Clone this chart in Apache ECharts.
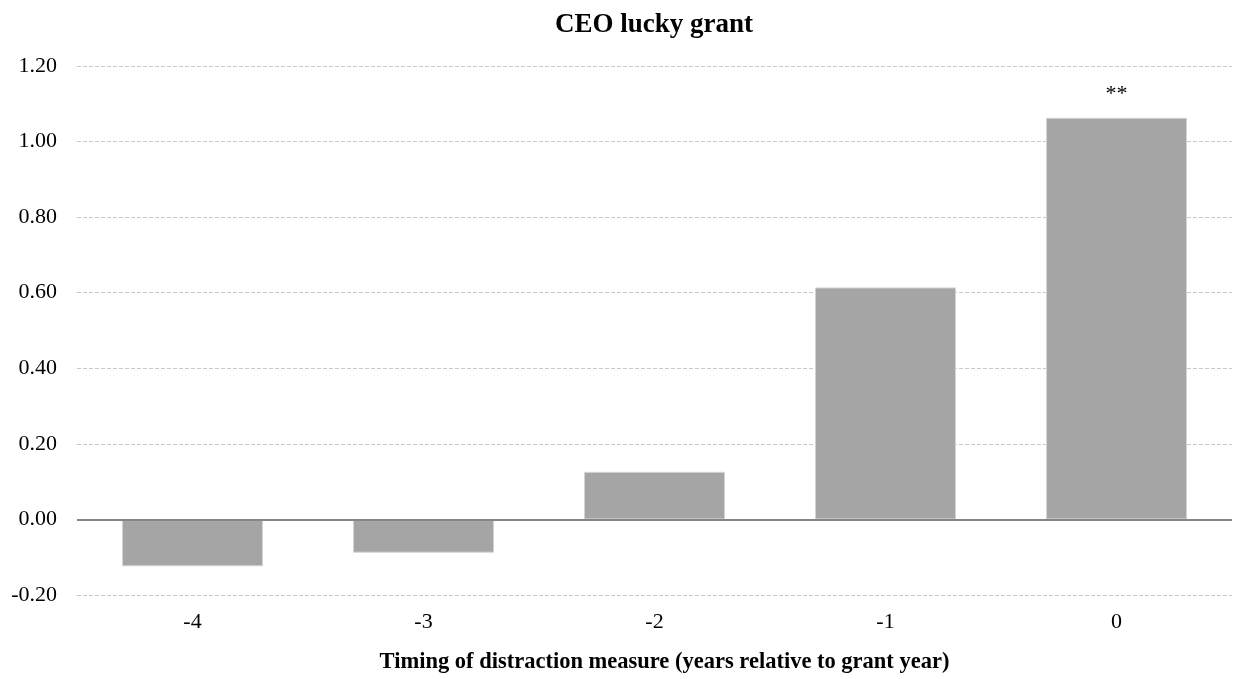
<!DOCTYPE html>
<html>
<head>
<meta charset="utf-8">
<script src="https://cdn.jsdelivr.net/npm/echarts@6/dist/echarts.min.js"></script>
<style>html,body{margin:0;padding:0;background:#fff;}#c{width:1235px;height:679px;}</style>
</head>
<body>
<div id="c"></div>
<script>
var categories = ['-4', '-3', '-2', '-1', '0'];
var values = [-0.124, -0.088, 0.126, 0.614, 1.063];
var significance = ['', '', '', '', '**'];
var yTicks = { min: -0.2, max: 1.2, interval: 0.2 };

var font = '"Liberation Serif", "Times New Roman", serif';
var chart = echarts.init(document.getElementById('c'));
chart.setOption({
  animation: false,
  title: {
    text: 'CEO lucky grant', left: 550, top: 7,
    textStyle: { fontFamily: font, fontSize: 27, fontWeight: 'bold', color: '#000' }
  },
  grid: { left: 77, right: 3, top: 66, bottom: 84 },
  xAxis: {
    type: 'category', data: categories,
    name: 'Timing of distraction measure (years relative to grant year)',
    nameLocation: 'middle', nameGap: 56,
    nameTextStyle: { fontFamily: font, fontSize: 22.5, fontWeight: 'bold', color: '#000',
      padding: [0, 0, 0, 20] },
    axisLine: { show: false }, axisTick: { show: false },
    axisLabel: { fontFamily: font, fontSize: 22, color: '#000', margin: 16 },
    position: 'bottom'
  },
  yAxis: {
    type: 'value', min: yTicks.min, max: yTicks.max, interval: yTicks.interval,
    axisLine: { show: false }, axisTick: { show: false },
    axisLabel: { fontFamily: font, fontSize: 22, color: '#000', margin: 20,
      formatter: function (v) { return v.toFixed(2); } },
    splitLine: { lineStyle: { color: '#c8c8c8', type: [4, 2], width: 1 } }
  },
  series: [{
    type: 'bar', data: values, barCategoryGap: '39%',
    itemStyle: { color: '#a5a5a5', borderColor: '#d4d4d4', borderWidth: 1 },
    label: {
      show: true, position: 'top', distance: 13,
      fontFamily: font, fontSize: 22, color: '#000',
      formatter: function (p) { return significance[p.dataIndex]; }
    },
    markLine: {
      symbol: 'none', silent: true, label: { show: false },
      lineStyle: { color: '#868686', type: 'solid', width: 2 },
      data: [{ yAxis: 0 }]
    }
  }]
});
</script>
</body>
</html>
